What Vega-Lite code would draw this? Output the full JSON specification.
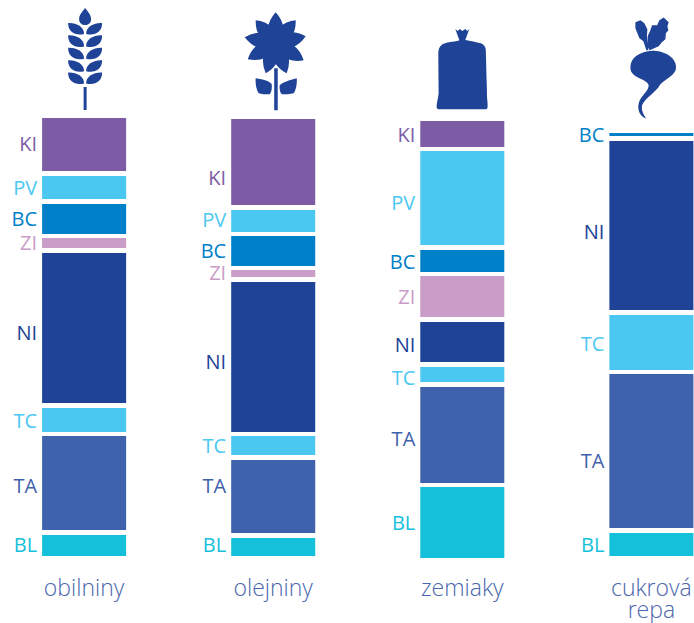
{
"$schema":"https://vega.github.io/schema/vega-lite/v6.json",
"width":694,"height":623,"padding":0,"autosize":{"type":"none"},
"background":"white",
"config":{"view":{"stroke":null}},
"datasets":{
"bars":[
{"crop":"obilniny","nutrient":"KI","from":88.36,"to":100.46,"labelAt":94.18},
{"crop":"obilniny","nutrient":"PV","from":81.96,"to":87.21,"labelAt":84.36},
{"crop":"obilniny","nutrient":"BC","from":73.97,"to":80.82,"labelAt":77.28},
{"crop":"obilniny","nutrient":"ZI","from":70.78,"to":73.06,"labelAt":71.58},
{"crop":"obilniny","nutrient":"NI","from":35.39,"to":69.63,"labelAt":51.03},
{"crop":"obilniny","nutrient":"TC","from":28.77,"to":34.25,"labelAt":31.16},
{"crop":"obilniny","nutrient":"TA","from":6.39,"to":27.85,"labelAt":16.32},
{"crop":"obilniny","nutrient":"BL","from":0.46,"to":5.25,"labelAt":2.63},
{"crop":"olejniny","nutrient":"KI","from":80.59,"to":100.23,"labelAt":86.64},
{"crop":"olejniny","nutrient":"PV","from":74.43,"to":79.45,"labelAt":77.05},
{"crop":"olejniny","nutrient":"BC","from":66.67,"to":73.52,"labelAt":69.75},
{"crop":"olejniny","nutrient":"ZI","from":64.16,"to":65.75,"labelAt":64.73},
{"crop":"olejniny","nutrient":"NI","from":28.77,"to":63.01,"labelAt":44.63},
{"crop":"olejniny","nutrient":"TC","from":23.52,"to":27.85,"labelAt":25.23},
{"crop":"olejniny","nutrient":"TA","from":5.71,"to":22.37,"labelAt":16.32},
{"crop":"olejniny","nutrient":"BL","from":0.46,"to":4.57,"labelAt":2.63},
{"crop":"zemiaky","nutrient":"KI","from":93.84,"to":99.77,"labelAt":96.46},
{"crop":"zemiaky","nutrient":"PV","from":71.46,"to":92.92,"labelAt":80.71},
{"crop":"zemiaky","nutrient":"BC","from":65.30,"to":70.32,"labelAt":67.24},
{"crop":"zemiaky","nutrient":"ZI","from":55.02,"to":64.38,"labelAt":59.25},
{"crop":"zemiaky","nutrient":"NI","from":44.75,"to":53.88,"labelAt":48.29},
{"crop":"zemiaky","nutrient":"TC","from":40.18,"to":43.61,"labelAt":40.98},
{"crop":"zemiaky","nutrient":"TA","from":17.12,"to":39.04,"labelAt":27.05},
{"crop":"zemiaky","nutrient":"BL","from":0,"to":16.21,"labelAt":7.65},
{"crop":"cukrová repa","nutrient":"BC","from":96.35,"to":97.03,"labelAt":96.46},
{"crop":"cukrová repa","nutrient":"NI","from":56.62,"to":95.21,"labelAt":74.09},
{"crop":"cukrová repa","nutrient":"TC","from":42.92,"to":55.48,"labelAt":48.52},
{"crop":"cukrová repa","nutrient":"TA","from":6.85,"to":42.01,"labelAt":22.03},
{"crop":"cukrová repa","nutrient":"BL","from":0.46,"to":5.71,"labelAt":2.63}
],
"crops":[
{"crop":"obilniny","name":"obilniny","icon":113.7,"nameAt":-4.6},
{"crop":"olejniny","name":"olejniny","icon":117.5,"nameAt":-4.6},
{"crop":"zemiaky","name":"zemiaky","icon":111.4,"nameAt":-4.6},
{"crop":"cukrová repa","name":"cukrová\nrepa","icon":112.3,"nameAt":-4.6}
]},
"encoding":{"x":{"field":"crop","type":"nominal","axis":null,"sort":null,
"scale":{"type":"band","domain":["obilniny","olejniny","zemiaky","cukrová repa"],"range":[42.1,693.4],"paddingInner":0.5556,"paddingOuter":0}}},
"layer":[
{"data":{"name":"bars"},
"mark":{"type":"bar","stroke":null,"opacity":1},
"encoding":{
"y":{"field":"from","type":"quantitative","axis":null,"scale":{"domain":[0,100],"range":[558,120],"nice":false,"zero":false}},
"y2":{"field":"to"},
"color":{"field":"nutrient","type":"nominal","legend":null,"scale":{"domain":["KI","PV","BC","ZI","NI","TC","TA","BL"],"range":["#7d5ca5","#4bc8f2","#0080c8","#c99dc7","#1e4397","#4bc8f2","#3f62ac","#15c0db"]}}}},
{"data":{"name":"bars"},
"mark":{"type":"text","align":"right","baseline":"middle","dx":-47,"font":"Open Sans","fontSize":20},
"encoding":{
"y":{"field":"labelAt","type":"quantitative"},
"text":{"field":"nutrient"},
"color":{"field":"nutrient","type":"nominal","legend":null}}},
{"data":{"name":"crops"},
"mark":{"type":"text","align":"center","baseline":"top","font":"Open Sans","fontWeight":300,"fontSize":23,"lineBreak":"\n","lineHeight":22,"color":"#4a66ad"},
"encoding":{
"y":{"field":"nameAt","type":"quantitative"},
"text":{"field":"name"}}},
{"data":{"name":"crops"},
"mark":{"type":"point","filled":true,"opacity":1,"size":4,"strokeWidth":0,"color":"#1e4397"},
"encoding":{
"y":{"field":"icon","type":"quantitative"},
"shape":{"field":"crop","type":"nominal","legend":null,"scale":{"domain":["obilniny","olejniny","zemiaky","cukrová repa"],"range":[
"M1 -52C4 -48 7 -45 7 -41C7 -37 4 -35 1 -35C-2 -35 -5 -37 -5 -41C-5 -45 -2 -48 1 -52ZM-16 -37C-8 -37.5 0 -33.5 0 -26C-9 -24 -16 -28 -16 -37ZM18 -37C10 -37.5 2 -33.5 2 -26C11 -24 18 -28 18 -37ZM-16 -24.6C-8 -25.1 0 -21.1 0 -13.6C-9 -11.6 -16 -15.6 -16 -24.6ZM18 -24.6C10 -25.1 2 -21.1 2 -13.6C11 -11.6 18 -15.6 18 -24.6ZM-16 -12.2C-8 -12.7 0 -8.7 0 -1.2C-9 0.8 -16 -3.2 -16 -12.2ZM18 -12.2C10 -12.7 2 -8.7 2 -1.2C11 0.8 18 -3.2 18 -12.2ZM-16 0.2C-8 -0.3 0 3.7 0 11.2C-9 13.2 -16 9.2 -16 0.2ZM18 0.2C10 -0.3 2 3.7 2 11.2C11 13.2 18 9.2 18 0.2ZM-16 12.6C-8 12.1 0 16.1 0 23.6C-9 25.6 -16 21.6 -16 12.6ZM18 12.6C10 12.1 2 16.1 2 23.6C11 25.6 18 21.6 18 12.6ZM-0.5 27L2.5 27L2.5 50L-0.5 50Z",
"M14.5 0C14.5 6.6 9.1 12 2.5 12C-4.1 12 -9.5 6.6 -9.5 0C-9.5 -6.6 -4.1 -12 2.5 -12C9.1 -12 14.5 -6.6 14.5 0ZM2.5 -31Q9.5 -23.25 10 -15.5L2.5 0L-5 -15.5Q-4.5 -23.25 2.5 -31ZM22.5 -23Q22.8 -12.7 18.2 -6.6L2.5 0L6.8 -16.4Q12.2 -21.8 22.5 -23ZM32.5 -7Q26.6 1.6 19.2 3.8L2.5 0L15.8 -10.8Q23.4 -12.1 32.5 -7ZM30.5 17Q19.9 18.7 12.6 14.9L2.5 0L20.4 2.1Q27.1 6.8 30.5 17ZM13.5 30Q4.2 24.9 1 17.6L2.5 0L15 12.4Q17.3 20.1 13.5 30ZM-7.5 30Q-11.6 20.3 -9.6 12.6L2.5 0L4.6 17.4Q1.6 24.7 -7.5 30ZM-25.5 16Q-22 5.9 -15.2 1.5L2.5 0L-7.8 14.5Q-15 18.1 -25.5 16ZM-28.5 -6Q-19.4 -11.4 -11.6 -10.4L2.5 0L-14.4 4.4Q-22.1 2.4 -28.5 -6ZM-17.5 -23Q-7.2 -21.8 -1.8 -16.4L2.5 0L-13.2 -6.6Q-17.8 -12.7 -17.5 -23ZM1 25L4.5 25L4.5 67L1 67ZM-17.5 35C-10 36 -3 38 -1.5 41C-1 46 -2 49 -3.5 51C-8 51 -12 51 -14.5 50C-17 46 -18 40 -17.5 35ZM23.5 35C16 37 9 39 6.5 42C6 46 7 49 8.5 51C12 51 17 51 20.5 50C23 46 24 40 23.5 35Z",
"M-7 -41L-4.5 -39L-2.5 -41L0 -39L3 -41L5 -39L7 -41L3 -30C8 -29 14 -28 18.7 -26.7C22 -25 23.5 -23 23.5 -19.7L24.3 10C24.5 15 24.7 22 24.7 26.7C25 30 25.5 34 25.3 37.3C25 39 24 39.3 22.7 39.3L-22.5 39.3C-25 39.3 -25.7 38 -25.7 36.7C-25.5 32 -24 28 -23.7 23.3L-24 -16.7C-24 -24 -20 -27 -12 -28C-6 -29 -3 -29 -3 -30Z",
"M-21 1.3C-21 -9.3 -11 -14.3 0.7 -15.3C12.3 -15.3 24.7 -9.3 24.7 1.3C24.7 9 14 12.3 8.3 19C5 25.7 -6 31.3 -9.3 39C-10.3 44 -7.7 49 -5 52.3C-11 50.7 -14.3 44 -12.7 37.3C-11 29 -2.7 25.7 -2.7 19C-4.3 12.3 -21 12.3 -21 1.3ZM-16 -44L-11 -46L-7 -43L-4 -37L-4.5 -30L-3 -16L-5 -16L-8 -25L-12 -28L-14 -33L-16 -38ZM8 -46L12.3 -48.7L17.3 -44L16 -40L17 -36L14.5 -33L14 -27L10.5 -24L7.3 -20L-1.7 -16L-3.7 -19.3L-3.7 -30L-1 -36L0.7 -41L5.7 -41Z"
]}}}}
]}
